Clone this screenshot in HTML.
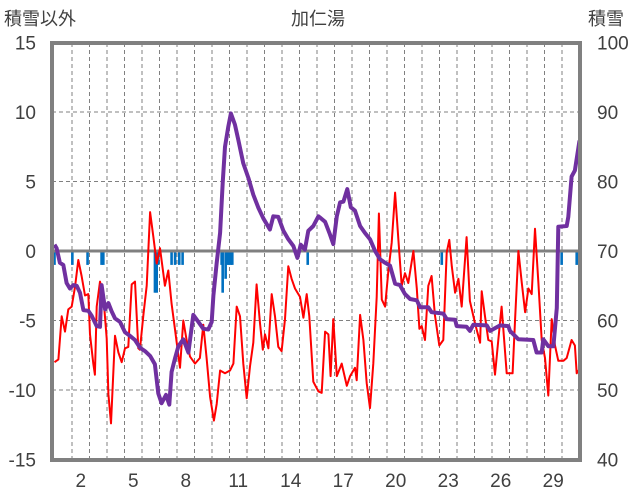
<!DOCTYPE html>
<html><head><meta charset="utf-8"><style>
body{margin:0;background:#fff;}
svg{display:block;font-family:"Liberation Sans","Noto Sans CJK JP",sans-serif;}
</style></head><body>
<svg id="c" width="636" height="501" viewBox="0 0 636 501">
<text x="318" y="25" text-anchor="middle" font-size="18" fill="#404040">加仁湯</text>
<text x="4" y="25" font-size="18" fill="#404040">積雪以外</text>
<text x="588" y="25" font-size="18" fill="#404040">積雪</text>
<g id="grid"></g><g id="bars"></g><g id="lines"></g><g id="axes"></g>
</svg>
<script>
const leftTicks=[15,10,5,0,-5,-10,-15];
const rightTicks=[100,90,80,70,60,50,40];
const dayLabels=[2,5,8,11,14,17,20,23,26,29];
const tempT=[0,0.22,0.41,0.6,0.79,0.98,1.17,1.36,1.55,1.74,1.93,2.03,2.22,2.31,2.41,2.6,2.79,2.98,3.08,3.23,3.46,3.65,3.84,4.03,4.22,4.41,4.6,4.79,4.88,5.08,5.27,5.46,5.65,5.84,6.03,6.22,6.31,6.5,6.69,6.89,7.17,7.36,7.55,7.74,8.03,8.31,8.5,8.69,8.89,9.11,9.27,9.46,9.74,10.03,10.22,10.41,10.6,10.79,10.98,11.17,11.36,11.55,11.74,11.9,12.03,12.22,12.41,12.6,12.79,12.98,13.17,13.36,13.55,13.74,14.03,14.22,14.41,14.56,14.79,15.08,15.27,15.46,15.65,15.78,15.93,16.13,16.41,16.7,16.89,17.17,17.27,17.46,17.65,17.84,18.03,18.22,18.41,18.54,18.7,18.89,19.08,19.27,19.46,19.65,19.84,20.03,20.22,20.51,20.7,20.85,20.98,21.17,21.36,21.55,21.74,21.99,22.22,22.41,22.56,22.7,22.89,23.08,23.27,23.55,23.74,24.03,24.32,24.41,24.6,24.79,24.98,25.17,25.36,25.55,25.84,26.18,26.32,26.51,26.7,26.89,27.08,27.27,27.46,27.65,27.84,28.03,28.22,28.41,28.6,28.79,29.08,29.27,29.55,29.74,29.84,30];
const tempV=[-8,-7.8,-4.7,-5.8,-4.2,-4,-2.6,-0.65,-1.8,-3.2,-3.1,-6,-8.1,-8.9,-4,-2.2,-3.2,-6.3,-10.3,-12.4,-6.1,-7.3,-8,-7,-6.9,-2.4,-2.2,-7,-7.1,-4.6,-2.5,2.8,1,-0.9,0.2,-1.6,-2.5,-1.4,-3.8,-5.7,-8.4,-5,-6.4,-7.6,-8.1,-7.7,-5.3,-7.7,-10.5,-12.2,-11,-8.6,-8.8,-8.6,-8.1,-4,-4.7,-8.1,-10.6,-8.3,-6.6,-2.4,-5.2,-7.1,-6,-7,-3.1,-4.7,-6.9,-7.2,-4.9,-1.1,-2,-2.7,-3.3,-4.8,-3.1,-4.7,-9.4,-10.1,-10.2,-5.8,-6,-9,-4.9,-9,-8.1,-9.7,-9,-8.4,-9.3,-4.6,-6.4,-9.5,-11.3,-8.1,-3.3,2.7,-3.5,-4,-1.4,0.6,4.2,0.8,-2.5,-1.6,-2.3,0,-2.7,-5.6,-5.4,-6.4,-2.5,-1.8,-4.6,-6.8,-6.4,-0.1,0.8,-1.1,-3,-2,-4,1,-3.6,-5.2,-6.6,-2.9,-4.7,-6.4,-6.5,-8.9,-6.4,-4,-8.8,-8.8,-4.9,0,-2.3,-4.4,-2.7,-3.1,1.6,-2.3,-6.4,-7.7,-10.4,-4.9,-6.8,-7.9,-7.9,-7.7,-6.4,-6.8,-8.8,-8.5];
const snowT=[0,0.12,0.31,0.5,0.69,0.88,1.08,1.27,1.46,1.65,1.93,2.12,2.41,2.6,2.69,2.89,3.08,3.27,3.46,3.74,4.03,4.31,4.6,4.88,5.17,5.46,5.74,5.93,6.12,6.37,6.56,6.69,6.89,7.08,7.36,7.65,7.93,8.22,8.5,8.79,8.98,9.08,9.27,9.46,9.61,9.74,9.93,10.08,10.31,10.5,10.79,11.08,11.36,11.65,11.93,12.31,12.5,12.79,13.08,13.36,13.65,13.88,14.07,14.31,14.5,14.79,15.08,15.17,15.46,15.74,15.93,16.13,16.32,16.51,16.73,16.93,17.17,17.46,17.74,18.03,18.32,18.6,18.89,19.17,19.46,19.74,20.03,20.32,20.7,20.89,21.36,21.55,22.22,22.41,22.89,22.98,23.55,23.74,23.93,24.7,24.89,25.46,25.93,26.03,26.51,27.36,27.55,27.84,27.93,28.22,28.51,28.7,28.79,29.27,29.36,29.55,29.74,30];
const snowV=[70.9,70.4,68.3,68,65.4,64.6,65.1,65,64,61.5,61.4,60.7,59.2,59.1,65.1,61.6,62.5,61.3,60.3,59.8,58.3,57.8,57.2,56.1,55.6,54.9,53.7,49.5,48.1,49.3,47.9,52.6,54.6,56.3,57.3,55.4,60.8,59.8,58.8,58.7,59.8,63.6,68.3,72.6,79.8,85,87.9,89.8,88.2,86,82.6,80.5,78.1,76.2,74.7,73.1,75,74.9,72.9,71.7,70.7,69,70.9,70.2,72.9,73.6,75,74.8,74.2,72.4,71,75,77,77.1,78.9,76.3,75.8,73.6,72.6,71.7,70,68.8,68.3,67.9,65.3,65.1,63.8,63.1,62.9,61.9,61.9,61.2,61,60.2,60.1,59.2,59.1,58.5,59.4,59.3,58.5,59.3,59.2,58.5,57.3,57.2,55.4,55.4,57.3,56.3,56.3,61.8,73.5,73.6,74.9,80.7,81.6,85.9];
const precT=[0,1.02,1.89,2.69,2.79,5.74,5.84,5.93,6.69,6.89,7.13,7.32,9.55,9.61,9.78,9.88,9.97,10.07,10.16,14.47,22.13,28.98,29.84];
const precV=[-1,-1,-1,-1,-1,-3,-3,-1,-1,-1,-1,-1,-1,-3,-2,-1,-1,-1,-1,-1,-1,-1,-1];

const NS='http://www.w3.org/2000/svg';
const L=52,R=580,T=43,B=460;
const xs=t=>54.5+t*17.5;
const yl=v=>251-v*13.9;
const yr=v=>251-(v-70)*6.95;
function mk(tag,attrs,parent){const e=document.createElementNS(NS,tag);for(const k in attrs)e.setAttribute(k,attrs[k]);parent.appendChild(e);return e;}
const grid=document.getElementById('grid'),bars=document.getElementById('bars'),lines=document.getElementById('lines'),axes=document.getElementById('axes');
for(let d=1;d<30;d++){
  const g=mk('line',{x1:xs(d),x2:xs(d),y1:T,y2:B,stroke:'#808080','stroke-width':1,'stroke-dasharray':'4,3'},grid);
  
  
}
leftTicks.forEach(v=>{
  if(v!==0&&Math.abs(v)!==15){
    const g=mk('line',{x1:L,x2:R,y1:yl(v),y2:yl(v),stroke:'#808080','stroke-width':1,'stroke-dasharray':'4,3'},grid);
    
    
  }
  const t=mk('text',{x:36,y:yl(v)+7,'text-anchor':'end','font-size':19,fill:'#404040'},axes);
  t.textContent=v;
  
  
});
rightTicks.forEach(v=>{
  const t=mk('text',{x:597,y:yr(v)+7,'font-size':19,fill:'#404040'},axes);
  t.textContent=v;
  
  
});
dayLabels.forEach(d=>{
  const t=mk('text',{x:xs(d-0.5),y:487,'text-anchor':'middle','font-size':19,fill:'#404040'},axes);
  t.textContent=d;
  
  
});
precT.forEach((t,i)=>{
  const y0=yl(0),y1=yl(precV[i]);
  const b=mk('rect',{x:xs(t)-1.3,y:Math.min(y0,y1),width:2.6,height:Math.abs(y1-y0),fill:'#0070c0'},bars);
  
  
});
const z=mk('line',{x1:L,x2:R,y1:yl(0),y2:yl(0),stroke:'#808080','stroke-width':3},lines);


const tp=mk('polyline',{points:tempT.map((t,i)=>xs(t).toFixed(1)+','+yl(tempV[i]).toFixed(1)).join(' '),fill:'none',stroke:'#ff0000','stroke-width':2,'stroke-linejoin':'round'},lines);


const sp=mk('polyline',{points:snowT.map((t,i)=>xs(t).toFixed(1)+','+yr(snowV[i]).toFixed(1)).join(' '),fill:'none',stroke:'#7030a0','stroke-width':4,'stroke-linejoin':'round'},lines);


const f=mk('rect',{x:L,y:T,width:R-L,height:B-T,fill:'none',stroke:'#808080','stroke-width':4},axes);


</script>
</body></html>
